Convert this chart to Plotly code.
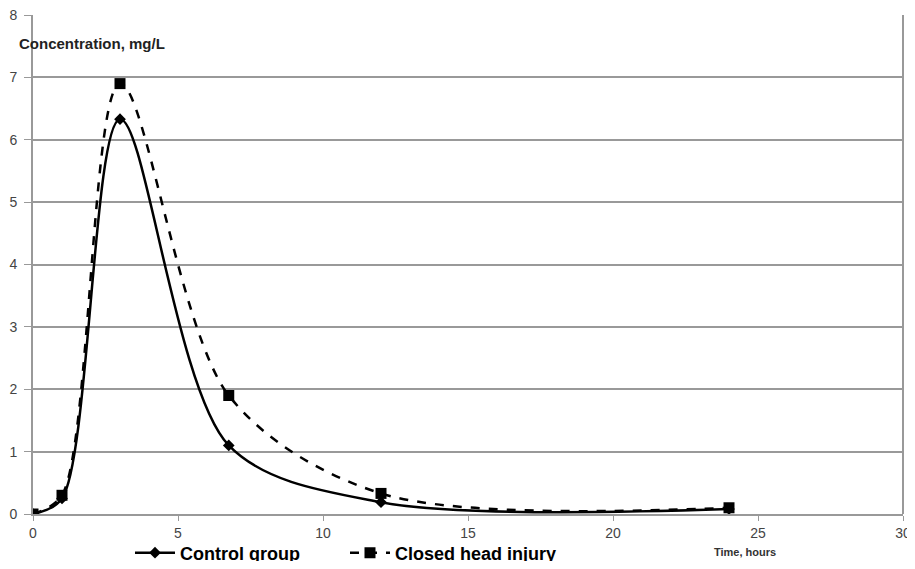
import plotly.graph_objects as go

time_h = [0, 1, 3, 6.75, 12, 24]
control = [0, 0.25, 6.33, 1.1, 0.19, 0.08]
chi = [0, 0.3, 6.9, 1.9, 0.33, 0.1]

fig = go.Figure()
fig.add_trace(go.Scatter(
    x=time_h, y=control, name="<b>Control group</b>" + "&nbsp;" * 8, mode="lines+markers",
    line=dict(color="black", width=2.5, shape="spline", smoothing=0.9),
    marker=dict(symbol="diamond", size=9, color="black")))
fig.add_trace(go.Scatter(
    x=time_h, y=chi, name="<b>Closed head injury</b>", mode="lines+markers",
    line=dict(color="black", width=2.5, dash="dash", shape="spline", smoothing=0.9),
    marker=dict(symbol="square", size=11, color="black")))

# page body adds an 8px offset; size and margins compensate for it
fig.update_layout(
    width=899, height=553,
    margin=dict(l=25, r=4, t=7, b=47),
    paper_bgcolor="white", plot_bgcolor="white",
    font=dict(family="Liberation Sans, Arial", color="#333"),
    showlegend=True,
    legend=dict(orientation="h", xref="container", yref="container",
                x=0.1357, y=0.0145, xanchor="left", yanchor="middle",
                font=dict(size=18, color="black", family="Liberation Sans, Arial"),
                itemwidth=40, bgcolor="rgba(0,0,0,0)"),
    xaxis=dict(range=[0, 30], tickvals=[0, 5, 10, 15, 20, 25, 30], showgrid=False,
               showline=True, linecolor="#999", linewidth=2, mirror=False,
               ticks="outside", ticklen=5, tickcolor="#999", zeroline=False,
               automargin=False, ticklabeloverflow="allow",
               tickfont=dict(size=14, color="#444")),
    yaxis=dict(range=[0, 8], dtick=1, showgrid=True, gridcolor="#999", gridwidth=2,
               showline=True, linecolor="#999", linewidth=2,
               ticks="outside", ticklen=7, tickcolor="#999", zeroline=False,
               ticklabelstandoff=4, ticklabeloverflow="allow",
               automargin=False, tickfont=dict(size=14, color="#444")),
)
fig.add_shape(type="line", xref="paper", yref="paper", x0=1, x1=1, y0=0, y1=1,
              line=dict(color="#999", width=2))
fig.add_annotation(text="<b>Concentration, mg/L</b>", xref="paper", yref="paper",
                   x=-0.018, y=0.943, xanchor="left", yanchor="middle", showarrow=False,
                   font=dict(size=15, color="#222"))
fig.add_annotation(text="<b>Time, hours</b>", xref="paper", yref="paper",
                   x=0.818, y=-0.076, xanchor="center", yanchor="middle", showarrow=False,
                   font=dict(size=11, color="#333"))
fig.write_html("out.html")
